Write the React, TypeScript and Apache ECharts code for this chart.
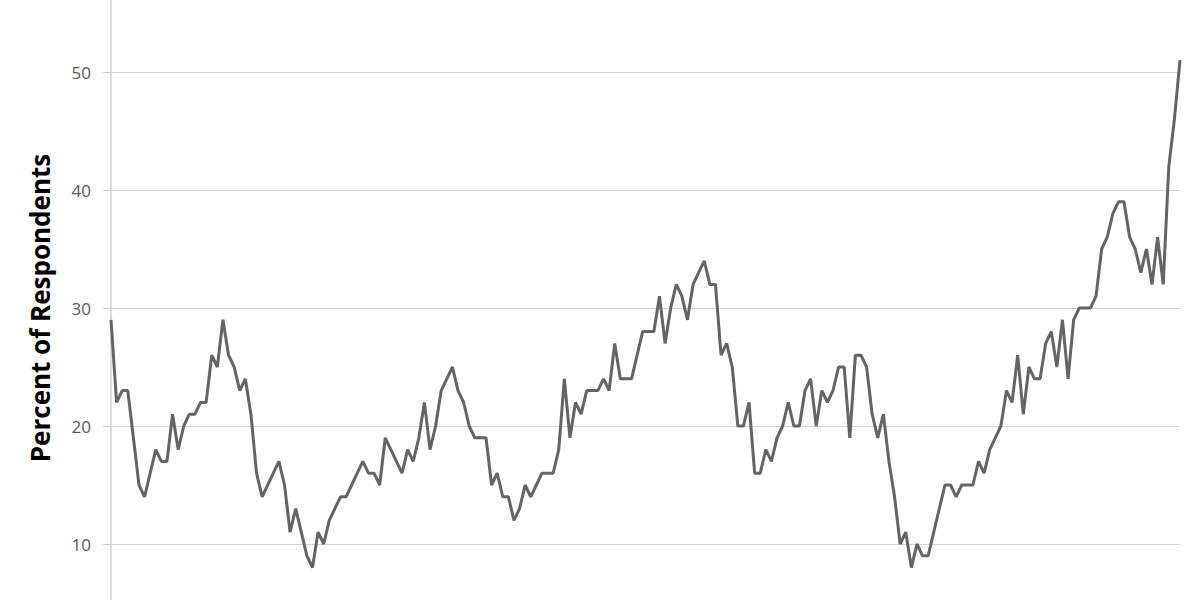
import React, { useEffect, useRef } from "react";
import * as echarts from "echarts";

const periods: string[] = [];
const percentValues: number[] = [
  29, 22, 23, 23, 19, 15, 14, 16, 18, 17,
  17, 21, 18, 20, 21, 21, 22, 22, 26, 25,
  29, 26, 25, 23, 24, 21, 16, 14, 15, 16,
  17, 15, 11, 13, 11, 9, 8, 11, 10, 12,
  13, 14, 14, 15, 16, 17, 16, 16, 15, 19,
  18, 17, 16, 18, 17, 19, 22, 18, 20, 23,
  24, 25, 23, 22, 20, 19, 19, 19, 15, 16,
  14, 14, 12, 13, 15, 14, 15, 16, 16, 16,
  18, 24, 19, 22, 21, 23, 23, 23, 24, 23,
  27, 24, 24, 24, 26, 28, 28, 28, 31, 27,
  30, 32, 31, 29, 32, 33, 34, 32, 32, 26,
  27, 25, 20, 20, 22, 16, 16, 18, 17, 19,
  20, 22, 20, 20, 23, 24, 20, 23, 22, 23,
  25, 25, 19, 26, 26, 25, 21, 19, 21, 17,
  14, 10, 11, 8, 10, 9, 9, 11, 13, 15,
  15, 14, 15, 15, 15, 17, 16, 18, 19, 20,
  23, 22, 26, 21, 25, 24, 24, 27, 28, 25,
  29, 24, 29, 30, 30, 30, 31, 35, 36, 38,
  39, 39, 36, 35, 33, 35, 32, 36, 32, 42,
  46, 51,
];
for (let i = 0; i < percentValues.length; i++) periods.push(String(i + 1));

const yTicks = { min: 0, max: 60, interval: 10 };
const shownTickLabels = [10, 20, 30, 40, 50];
const axisTitle = "Percent of Respondents";

export default function App() {
  const ref = useRef<HTMLDivElement>(null);
  useEffect(() => {
    if (!ref.current) return;
    const chart = echarts.init(ref.current, undefined, { renderer: "svg" });
    chart.setOption({
      animation: false,
      backgroundColor: "#ffffff",
      grid: { left: 111, right: 20, top: 0, bottom: 0, containLabel: false },
      xAxis: {
        type: "category",
        data: periods,
        boundaryGap: false,
        show: false,
      },
      yAxis: {
        type: "value",
        min: yTicks.min,
        max: yTicks.max,
        interval: yTicks.interval,
        name: axisTitle,
        nameLocation: "middle",
        nameGap: 58,
        nameTextStyle: {
          fontFamily: "Open Sans",
          fontWeight: "bold",
          fontSize: 26,
          color: "#000000",
        },
        axisLine: { show: true, lineStyle: { color: "#cfcfcf", width: 1.5 } },
        axisTick: { show: true, inside: false, length: 8, lineStyle: { color: "#cfcfcf", width: 1 } },
        axisLabel: {
          margin: 20,
          fontFamily: "Open Sans",
          fontSize: 17,
          color: "#595959",
          formatter: (v: number) => (shownTickLabels.indexOf(v) >= 0 ? String(v) : ""),
        },
        splitLine: { show: true, lineStyle: { color: "#d4d4d4", width: 1 } },
      },
      series: [
        {
          type: "line",
          data: percentValues,
          symbol: "none",
          lineStyle: { color: "#646464", width: 3 },
          clip: true,
        },
      ],
    });
    return () => chart.dispose();
  }, []);
  return (
    <div
      ref={ref}
      style={{ position: "fixed", left: 0, top: -46, width: 1200, height: 708 }}
    />
  );
}
